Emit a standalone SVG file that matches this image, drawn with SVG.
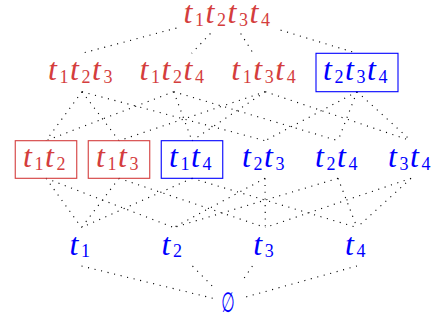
<svg xmlns="http://www.w3.org/2000/svg" width="434" height="322" viewBox="0 0 434 322">
  <style>
    .t { font-family: "Liberation Serif", "Times New Roman", serif; font-style: italic; font-size: 32px; }
    .s { font-family: "Liberation Serif", "Times New Roman", serif; font-style: normal; font-size: 18px; }
    .red { fill: #d43d3d; }
    .blue { fill: #0000ff; }
    .box-red { fill: none; stroke: #d43d3d; stroke-width: 1.1; }
    .box-blue { fill: none; stroke: #0000ff; stroke-width: 1.1; }
    .edge { fill: none; stroke: #000; stroke-width: 1.1; stroke-dasharray: 1.1 5.6; }
  </style>

  <!-- dotted cover relations of the subset lattice -->
  <g id="connectors" class="edge">
    <!-- top to 3-subsets -->
    <path d="M176.4,28.1 L82,53.3"/>
    <path d="M210.4,33.5 L191.7,53.3"/>
    <path d="M240.7,33.5 L253.2,53.3"/>
    <path d="M280.6,30.1 L357,53.3"/>
    <!-- 3-subsets to 2-subsets -->
    <path d="M82,91.7 L46,140.7"/>
    <path d="M82,91.7 L119,140.7"/>
    <path d="M82,91.7 L265,140.7"/>
    <path d="M173.7,91.7 L46,140.7"/>
    <path d="M173.7,91.7 L192,140.7"/>
    <path d="M173.7,91.7 L338,140.7"/>
    <path d="M265.3,91.7 L119,140.7"/>
    <path d="M265.3,91.7 L192,140.7"/>
    <path d="M265.3,91.7 L411,140.7"/>
    <path d="M357,91.7 L265,140.7"/>
    <path d="M357,91.7 L338,140.7"/>
    <path d="M357,91.7 L411,140.7"/>
    <!-- 2-subsets to singletons -->
    <path d="M46,178.3 L81.5,227.5"/>
    <path d="M46,178.3 L173.7,227.5"/>
    <path d="M119,178.3 L81.5,227.5"/>
    <path d="M119,178.3 L265.3,227.5"/>
    <path d="M192,178.3 L81.5,227.5"/>
    <path d="M192,178.3 L357,227.5"/>
    <path d="M265,178.3 L173.7,227.5"/>
    <path d="M265,178.3 L265.3,227.5"/>
    <path d="M338,178.3 L173.7,227.5"/>
    <path d="M338,178.3 L357,227.5"/>
    <path d="M411,178.3 L265.3,227.5"/>
    <path d="M411,178.3 L357,227.5"/>
    <!-- singletons to the empty set -->
    <path d="M81.5,266 L213,298.3"/>
    <path d="M192.5,266 L213,286.8"/>
    <path d="M252.4,266 L243.6,279"/>
    <path d="M357,266 L244,297.5"/>
  </g>

  <g id="t1t2t3t4" class="red">
    <text class="t"><tspan x="183.4" y="23">t</tspan><tspan class="s" x="194.9" y="25.5">1</tspan><tspan x="205.4" y="23">t</tspan><tspan class="s" x="216.9" y="25.5">2</tspan><tspan x="227.4" y="23">t</tspan><tspan class="s" x="238.9" y="25.5">3</tspan><tspan x="249.4" y="23">t</tspan><tspan class="s" x="260.9" y="25.5">4</tspan></text>
  </g>

  <g id="t1t2t3" class="red">
    <text class="t"><tspan x="47.9" y="80.3">t</tspan><tspan class="s" x="59.4" y="82.8">1</tspan><tspan x="69.9" y="80.3">t</tspan><tspan class="s" x="81.4" y="82.8">2</tspan><tspan x="91.9" y="80.3">t</tspan><tspan class="s" x="103.4" y="82.8">3</tspan></text>
  </g>
  <g id="t1t2t4" class="red">
    <text class="t"><tspan x="139.6" y="80.3">t</tspan><tspan class="s" x="151.1" y="82.8">1</tspan><tspan x="161.6" y="80.3">t</tspan><tspan class="s" x="173.1" y="82.8">2</tspan><tspan x="183.6" y="80.3">t</tspan><tspan class="s" x="195.1" y="82.8">4</tspan></text>
  </g>
  <g id="t1t3t4" class="red">
    <text class="t"><tspan x="231.2" y="80.3">t</tspan><tspan class="s" x="242.7" y="82.8">1</tspan><tspan x="253.2" y="80.3">t</tspan><tspan class="s" x="264.7" y="82.8">3</tspan><tspan x="275.2" y="80.3">t</tspan><tspan class="s" x="286.7" y="82.8">4</tspan></text>
  </g>
  <g id="t2t3t4" class="blue">
    <rect class="box-blue" x="316" y="53.3" width="82" height="38.4"/>
    <text class="t"><tspan x="322.9" y="80.3">t</tspan><tspan class="s" x="334.4" y="82.8">2</tspan><tspan x="344.9" y="80.3">t</tspan><tspan class="s" x="356.4" y="82.8">3</tspan><tspan x="366.9" y="80.3">t</tspan><tspan class="s" x="378.4" y="82.8">4</tspan></text>
  </g>

  <g id="t1t2" class="red">
    <rect class="box-red" x="15.25" y="140.7" width="61.5" height="37.6"/>
    <text class="t"><tspan x="22.9" y="167.3">t</tspan><tspan class="s" x="34.4" y="169.8">1</tspan><tspan x="44.9" y="167.3">t</tspan><tspan class="s" x="56.4" y="169.8">2</tspan></text>
  </g>
  <g id="t1t3" class="red">
    <rect class="box-red" x="88.25" y="140.7" width="61.5" height="37.6"/>
    <text class="t"><tspan x="95.9" y="167.3">t</tspan><tspan class="s" x="107.4" y="169.8">1</tspan><tspan x="117.9" y="167.3">t</tspan><tspan class="s" x="129.4" y="169.8">3</tspan></text>
  </g>
  <g id="t1t4" class="blue">
    <rect class="box-blue" x="161.25" y="140.7" width="61.5" height="37.6"/>
    <text class="t"><tspan x="168.9" y="167.3">t</tspan><tspan class="s" x="180.4" y="169.8">1</tspan><tspan x="190.9" y="167.3">t</tspan><tspan class="s" x="202.4" y="169.8">4</tspan></text>
  </g>
  <g id="t2t3" class="blue">
    <text class="t"><tspan x="241.9" y="167.3">t</tspan><tspan class="s" x="253.4" y="169.8">2</tspan><tspan x="263.9" y="167.3">t</tspan><tspan class="s" x="275.4" y="169.8">3</tspan></text>
  </g>
  <g id="t2t4" class="blue">
    <text class="t"><tspan x="314.9" y="167.3">t</tspan><tspan class="s" x="326.4" y="169.8">2</tspan><tspan x="336.9" y="167.3">t</tspan><tspan class="s" x="348.4" y="169.8">4</tspan></text>
  </g>
  <g id="t3t4" class="blue">
    <text class="t"><tspan x="387.9" y="167.3">t</tspan><tspan class="s" x="399.4" y="169.8">3</tspan><tspan x="409.9" y="167.3">t</tspan><tspan class="s" x="421.4" y="169.8">4</tspan></text>
  </g>

  <g id="t1" class="blue">
    <text class="t"><tspan x="69.4" y="254.8">t</tspan><tspan class="s" x="80.9" y="257.3">1</tspan></text>
  </g>
  <g id="t2" class="blue">
    <text class="t"><tspan x="161.6" y="254.8">t</tspan><tspan class="s" x="173.1" y="257.3">2</tspan></text>
  </g>
  <g id="t3" class="blue">
    <text class="t"><tspan x="253.2" y="254.8">t</tspan><tspan class="s" x="264.7" y="257.3">3</tspan></text>
  </g>
  <g id="t4" class="blue">
    <text class="t"><tspan x="344.9" y="254.8">t</tspan><tspan class="s" x="356.4" y="257.3">4</tspan></text>
  </g>

  <g id="empty" class="blue">
    <text transform="translate(228,312) scale(0.55,1)" text-anchor="middle" font-family="DejaVu Sans, sans-serif" font-size="28">∅</text>
  </g>
</svg>
